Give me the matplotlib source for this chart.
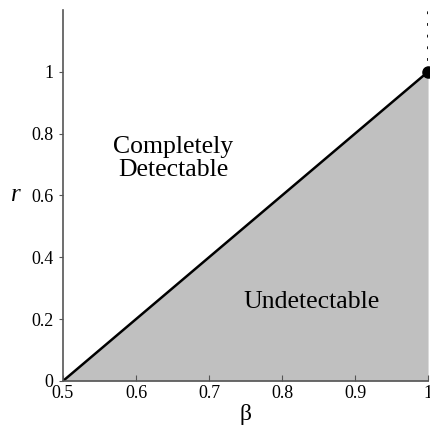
import matplotlib
matplotlib.use("Agg")
import matplotlib.pyplot as plt

# Boundary between the two regions
beta = [0.5, 1.0]
r_boundary = [0.0, 1.0]

# Critical point and the vertical line above it
point_beta = [1.0]
point_r = [1.0]
vline_r = [1.0, 1.2]

xticks = [0.5, 0.6, 0.7, 0.8, 0.9, 1.0]
xtick_labels = ["0.5", "0.6", "0.7", "0.8", "0.9", "1"]
yticks = [0, 0.2, 0.4, 0.6, 0.8, 1.0]
ytick_labels = ["0", "0.2", "0.4", "0.6", "0.8", "1"]

plt.rcParams["font.family"] = ["Liberation Serif", "DejaVu Serif"]

fig = plt.figure(figsize=(4.3, 4.3), dpi=100)
ax = fig.add_axes([0.1465, 0.114, 0.849, 0.863])

# Undetectable region
ax.fill_between(beta, 0, r_boundary, color="#c0c0c0", linewidth=0)
ax.plot(beta, r_boundary, color="black", linewidth=1.8, solid_capstyle="butt")
ax.plot([point_beta[0], point_beta[0]], vline_r, color="black", linestyle=(0, (1, 3.2)), linewidth=2)
ax.plot(point_beta, point_r, "o", color="black", markersize=8, clip_on=False)

ax.text(0.651, 0.72, "Completely\nDetectable", ha="center", va="center", fontsize=18.5, linespacing=1.05)
ax.text(0.841, 0.255, "Undetectable", ha="center", va="center", fontsize=18.5)

ax.set_xlim(0.5, 1.0)
ax.set_ylim(0, 1.2)
ax.set_xticks(xticks)
ax.set_xticklabels(xtick_labels)
ax.set_yticks(yticks)
ax.set_yticklabels(ytick_labels)
ax.tick_params(axis="x", direction="in", length=4, labelsize=13, pad=3, color="#555555")
ax.tick_params(axis="y", direction="out", length=3, labelsize=13, pad=4, color="#555555")

for side in ["top", "right"]:
    ax.spines[side].set_visible(False)
for side in ["left", "bottom"]:
    ax.spines[side].set_color("#555555")
    ax.spines[side].set_linewidth(1.2)

ax.set_xlabel("β", fontsize=17, labelpad=1)
ax.set_ylabel("r", fontsize=18, style="italic", rotation=0, labelpad=11, va="center")

fig.savefig("out.png", dpi=100)
